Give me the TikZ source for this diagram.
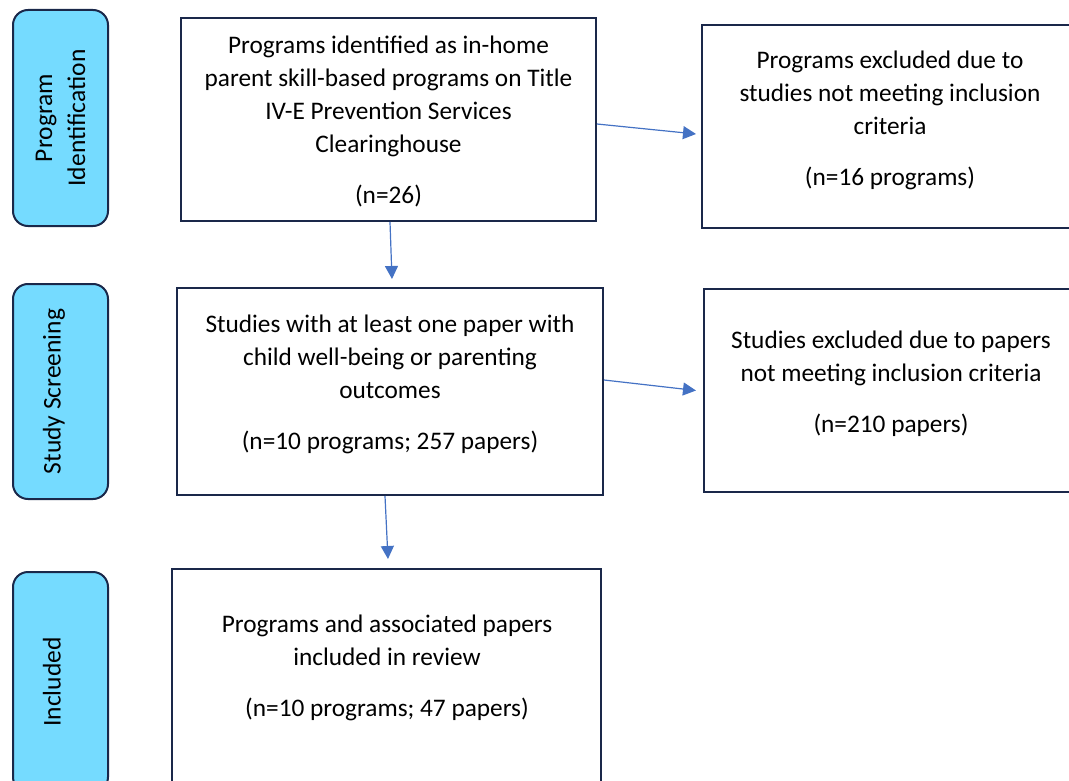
\documentclass[tikz,border=0pt]{standalone}
\usepackage{fontspec}
\setmainfont{Carlito}
\usetikzlibrary{arrows.meta}
\definecolor{pillblue}{RGB}{117,219,255}
\definecolor{edgenavy}{RGB}{26,40,74}
\definecolor{arrowblue}{RGB}{68,114,196}
\tikzset{
  stage/.style={draw=edgenavy, line width=2pt, fill=pillblue, rounded corners=15pt, rotate=90, align=center, inner sep=0, font=\fontsize{25.5}{33}\selectfont},
  flowbox/.style={draw=edgenavy, line width=2pt, inner sep=0},
  flowtext/.style={align=center, inner sep=0, font=\fontsize{25.3}{33}\selectfont},
  flowarrow/.style={draw=arrowblue, line width=1.2pt, -{Triangle[length=13pt,width=13pt]}}
}
\begin{document}
\begin{tikzpicture}[x=1pt, y=-1pt]
    \useasboundingbox (0,0) rectangle (1069,781);
    % stages on the left
    \node[stage, minimum width=216pt, minimum height=95pt] (identification) at (60.5,118) {Program\\Identification};
    \node[stage, minimum width=215pt, minimum height=95pt, text height=18pt, text depth=18pt] (screening) at (60.5,391.5) {Study Screening};
    \node[stage, minimum width=220pt, minimum height=95pt, text height=18pt, text depth=18pt] (included) at (60.5,682) {Included};
    % boxes
    \node[flowbox, minimum width=415pt, minimum height=203pt] (identified) at (388.5,119.5) {};
    \node[flowtext] (identifiedtext) at (388.5,121.5) {Programs identified as in-home\\parent skill-based programs on Title\\IV-E Prevention Services\\Clearinghouse\\[18pt](n=26)};
    \node[flowbox, minimum width=376pt, minimum height=203pt] (excludedprog) at (890,126.5) {};
    \node[flowtext] (excludedprogtext) at (890,120) {Programs excluded due to\\studies not meeting inclusion\\criteria\\[18pt](n=16 programs)};
    \node[flowbox, minimum width=426pt, minimum height=207pt] (studies) at (390,391.5) {};
    \node[flowtext] (studiestext) at (390,384) {Studies with at least one paper with\\child well-being or parenting\\outcomes\\[18pt](n=10 programs; 257 papers)};
    \node[flowbox, minimum width=374pt, minimum height=203pt] (excludedpap) at (891,390.5) {};
    \node[flowtext] (excludedpaptext) at (891,384) {Studies excluded due to papers\\not meeting inclusion criteria\\[18pt](n=210 papers)};
    \node[flowbox, minimum width=429pt, minimum height=230pt] (review) at (386.5,684) {};
    \node[flowtext] (reviewtext) at (387,668) {Programs and associated papers\\included in review\\[18pt](n=10 programs; 47 papers)};
    % arrows
    \draw[flowarrow] ([yshift=-4.5pt]identified.east) -- ([xshift=-5pt,yshift=-7.5pt]excludedprog.west);
    \draw[flowarrow] ([xshift=1.5pt]identified.south) -- ([xshift=2pt,yshift=8pt]studies.north);
    \draw[flowarrow] ([yshift=11.5pt]studies.east) -- ([xshift=-7pt]excludedpap.west);
    \draw[flowarrow] ([xshift=-5pt]studies.south) -- ([xshift=1.5pt,yshift=9pt]review.north);
\end{tikzpicture}
\end{document}
